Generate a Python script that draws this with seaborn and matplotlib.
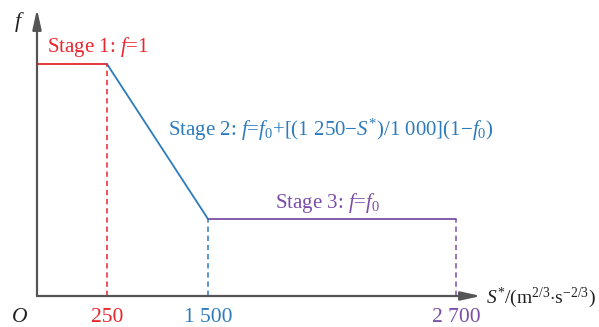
import numpy as np
import pandas as pd
import matplotlib
matplotlib.use("Agg")
import matplotlib.pyplot as plt
import seaborn as sns

# Stage breakpoints of the friction-reduction factor f against S*
s_break = [0, 250, 1500, 2700]
f_one = 1.0
f_zero = 0.332
stage_names = ["Stage 1", "Stage 2", "Stage 3"]
tick_values = [250, 1500, 2700]
tick_labels = ["250", "1 500", "2 700"]

RED = "#e8262d"
BLUE = "#2c7bbd"
PURPLE = "#7a4ea6"
AXIS = "#555555"
INK = "#222222"
MINUS = "\u2212"

sns.set_theme(style="white")
plt.rcParams["font.family"] = ["Liberation Serif", "DejaVu Serif"]
plt.rcParams["mathtext.fontset"] = "custom"
plt.rcParams["mathtext.rm"] = "Liberation Serif"
plt.rcParams["mathtext.it"] = "Liberation Serif:italic"
plt.rcParams["mathtext.bf"] = "Liberation Serif:bold"

fig = plt.figure(figsize=(5.99, 3.27), dpi=100)
ax = fig.add_axes([0, 0, 1, 1])

# Schematic (non-proportional) horizontal axis: piecewise-linear scale
knot_s = np.array([-132.1, 0, 250, 1500, 2700, 3392.0])
knot_p = np.array([0.0, 37, 107, 208, 456, 599])


def fwd(x):
    return np.interp(x, knot_s, knot_p, left=-1e3, right=2e3)


def inv(p):
    return np.interp(p, knot_p, knot_s, left=-1e4, right=1e4)


ax.set_xscale("function", functions=(fwd, inv))
ax.set_xlim(knot_s[0], knot_s[-1])
ax.set_ylim(-31 / 232, 296 / 232)
ax.set_axis_off()

segments = pd.DataFrame({
    "S": [s_break[0], s_break[1], s_break[1], s_break[2], s_break[2], s_break[3]],
    "f": [f_one, f_one, f_one, f_zero, f_zero, f_zero],
    "stage": [stage_names[0]] * 2 + [stage_names[1]] * 2 + [stage_names[2]] * 2,
})
palette = {stage_names[0]: RED, stage_names[1]: BLUE, stage_names[2]: PURPLE}
sns.lineplot(data=segments, x="S", y="f", hue="stage", palette=palette,
             sort=False, estimator=None, units="stage", linewidth=1.3,
             legend=False, ax=ax)

# Dashed guides down to the abscissa
guide_tops = [f_one, f_zero, f_zero]
guide_cols = [RED, BLUE, PURPLE]
for s, top, c in zip(tick_values, guide_tops, guide_cols):
    ax.plot([s, s], [0, top], color=c, lw=1.1, ls=(0, (3.5, 2.5)))

# Axes with arrow heads
arrow = dict(arrowstyle="-|>,head_length=1.0,head_width=0.22", color=AXIS,
             lw=1.6, shrinkA=0, shrinkB=0)
ax.annotate("", xy=(2821, 0), xytext=(0, 0), arrowprops=arrow)
ax.annotate("", xy=(0, 1.237), xytext=(0, 0), arrowprops=arrow)

fs = 15
ax.text(-64, 1.18, r"$f$", fontsize=fs + 1, color=INK, ha="center", va="center")
ax.text(2845, -0.01, r"$S^{*}$/(m$^{2/3}$$\cdot$s$^{" + MINUS + "2/3}$)",
        fontsize=14, color=INK, ha="left", va="center")
ax.text(-61, -0.092, r"$O$", fontsize=fs + 0.5, color=INK, ha="center", va="center")
for s, lab, c in zip(tick_values, tick_labels, guide_cols):
    ax.text(s, -0.092, lab, fontsize=fs + 0.5, color=c, ha="center", va="center")

ax.text(36, 1.073, stage_names[0] + r": $f$=1", fontsize=fs, color=RED,
        ha="left", va="center")
ax.text(1005, 0.716,
        stage_names[1] + r": $f$=$f_{0}$+[(1 250" + MINUS + r"$S^{*}$)/1 000](1"
        + MINUS + r"$f_{0}$)",
        fontsize=fs, color=BLUE, ha="left", va="center")
ax.text(1824, 0.401, stage_names[2] + r": $f$=$f_{0}$", fontsize=fs, color=PURPLE,
        ha="left", va="center")

fig.savefig("out.png", dpi=100, facecolor="white")
